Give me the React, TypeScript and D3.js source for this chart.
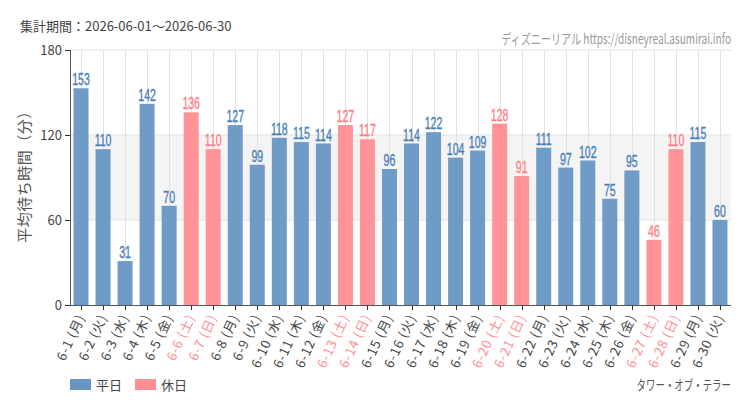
import React from "react";
import * as d3 from "d3";

const dates = ["6-1","6-2","6-3","6-4","6-5","6-6","6-7","6-8","6-9","6-10","6-11","6-12","6-13","6-14","6-15","6-16","6-17","6-18","6-19","6-20","6-21","6-22","6-23","6-24","6-25","6-26","6-27","6-28","6-29","6-30"];
const weekdays = ["月","火","水","木","金","土","日","月","火","水","木","金","土","日","月","火","水","木","金","土","日","月","火","水","木","金","土","日","月","火"];
const values = [153,110,31,142,70,136,110,127,99,118,115,114,127,117,96,114,122,104,109,128,91,111,97,102,75,95,46,110,115,60];
const holidays = [false,false,false,false,false,true,true,false,false,false,false,false,true,true,false,false,false,false,false,true,true,false,false,false,false,false,true,true,false,false];
const yTicks = [0, 60, 120, 180];

const BLUE = "#6796c4";
const PINK = "#ff8d92";
const BLUE_TXT = "#4a7fb8";
const PINK_TXT = "#ff7f86";
const JP = "'Noto Sans CJK JP', 'Noto Sans', sans-serif";
const COND = "'Liberation Sans', 'DejaVu Sans', sans-serif";

export default function App() {
  const W = 750, H = 410;
  const left = 70, right = 731, top = 50, bottom = 305;
  const x = d3.scaleBand().domain(dates).range([left, right]).paddingInner(0.32).paddingOuter(0.16);
  const y = d3.scaleLinear().domain([0, 180]).range([bottom, top]);
  const bw = x.bandwidth();
  return (
    <svg width={W} height={H} style={{ position: "absolute", left: 0, top: 0, background: "#fff" }}>
      <rect x={0} y={0} width={W} height={H} fill="#fff" />
      <rect x={left} y={y(120)} width={right - left} height={y(60) - y(120)} fill="#f4f4f4" />
      {yTicks.filter(t => t > 0).map(t => (
        <line key={"h" + t} x1={left} x2={right} y1={y(t)} y2={y(t)} stroke="#e2e2e2" strokeWidth={1} />
      ))}
      {dates.map(d => {
        const cx = Math.round(x(d)! + bw / 2) + 0.5;
        return <line key={"v" + d} x1={cx} x2={cx} y1={top} y2={bottom} stroke="#e2e2e2" strokeWidth={1} />;
      })}
      {dates.map((d, i) => (
        <rect key={"b" + d} x={x(d)} y={y(values[i])} width={bw} height={bottom - y(values[i])}
          fill={holidays[i] ? PINK : BLUE} fillOpacity={0.95} />
      ))}
      {dates.map((d, i) => {
        const s = String(values[i]);
        const cx = x(d)! + bw / 2;
        return (
          <text key={"l" + d} transform={`translate(${cx},${y(values[i]) - 3}) scale(0.66,1)`} textAnchor="middle"
            fontFamily={COND} fontSize={16} stroke={holidays[i] ? PINK_TXT : BLUE_TXT} strokeWidth={0.35}
            fill={holidays[i] ? PINK_TXT : BLUE_TXT}>{s}</text>
        );
      })}
      <line x1={left + 0.5} x2={left + 0.5} y1={top} y2={bottom} stroke="#555" strokeWidth={1} />
      <line x1={left} x2={right} y1={bottom + 0.5} y2={bottom + 0.5} stroke="#555" strokeWidth={1} />
      {yTicks.map(t => (
        <g key={"yt" + t}>
          <line x1={left - 5} x2={left} y1={y(t) + 0.5} y2={y(t) + 0.5} stroke="#333" />
          <text x={left - 8} y={y(t) + 4.5} textAnchor="end" fontFamily={JP} fontSize={13} fill="#444">{t}</text>
        </g>
      ))}
      {dates.map((d, i) => {
        const cx = Math.round(x(d)! + bw / 2) + 0.5;
        return (
          <g key={"xt" + d}>
            <line x1={cx} x2={cx} y1={bottom} y2={bottom + 5} stroke="#333" />
            <text transform={`translate(${cx + 4},${bottom + 12}) rotate(-65)`} textAnchor="end"
              fontFamily={JP} fontSize={13} letterSpacing={0.8} fill={holidays[i] ? PINK : "#444"}>{`${d} (${weekdays[i]})`}</text>
          </g>
        );
      })}
      <text transform={`translate(30,173) rotate(-90)`} textAnchor="middle"
        fontFamily={JP} fontSize={15} letterSpacing={0.5} fill="#555">平均待ち時間（分）</text>
      <text x={20} y={31} fontFamily={JP} fontSize={13} fill="#444">集計期間：2026-06-01～2026-06-30</text>
      <text transform={`translate(${right},44) scale(0.72,1)`} textAnchor="end" fontFamily={JP} fontSize={14} fill="#999">ディズニーリアル https://disneyreal.asumirai.info</text>
      <rect x={70} y={379} width={21} height={11} fill={BLUE} />
      <text x={96} y={390} fontFamily={JP} fontSize={13} fill="#444">平日</text>
      <rect x={135} y={379} width={21} height={11} fill={PINK} />
      <text x={161} y={390} fontFamily={JP} fontSize={13} fill="#444">休日</text>
      <text transform={`translate(${right},390) scale(0.7,1)`} textAnchor="end" fontFamily={JP} fontSize={13.5} fill="#555">タワー・オブ・テラー</text>
    </svg>
  );
}
